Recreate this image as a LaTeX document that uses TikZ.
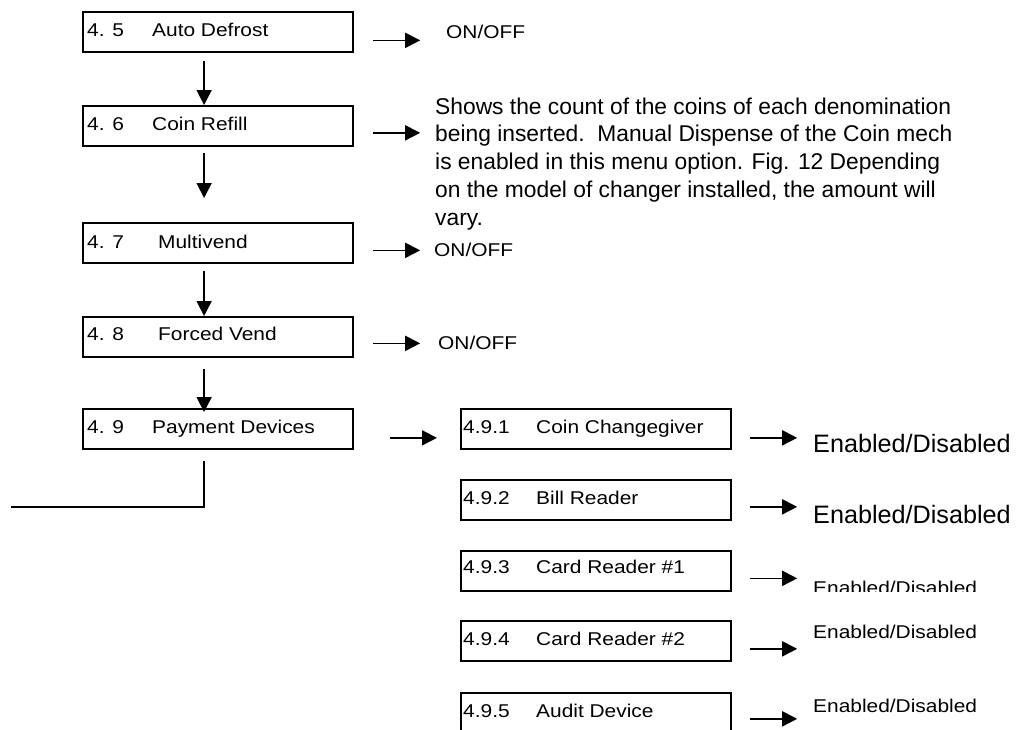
\documentclass[tikz,border=0pt]{standalone}
\usepackage{fontspec}
\setmainfont{Liberation Sans}
\newfontfamily\stretchfont[FakeStretch=1.13]{Liberation Sans}
\usetikzlibrary{arrows.meta,calc}
\begin{document}
\begin{tikzpicture}[x=1pt,y=-1pt,
  menubox/.style={draw, line width=2.2pt, minimum width=270pt, minimum height=39.5pt, anchor=north west, inner sep=0pt},
  lbl/.style={anchor=base west, inner sep=0pt, font=\stretchfont\fontsize{18.5}{22}\selectfont},
  edbig/.style={anchor=base west, inner sep=0pt, font=\fontsize{25.2}{30}\selectfont},
  para/.style={anchor=north west, inner sep=0pt, align=left, font=\fontsize{22.8}{27.7}\selectfont},
  arr/.style={line width=1.7pt, -{Triangle[length=15pt,width=15pt]}},
  plain/.style={line width=1.7pt}]
\useasboundingbox (0,0) rectangle (1031,729);
\clip (0,0) rectangle (1031,729);

% left column boxes
\node[menubox] (b45) at (82,11) {};
\node[menubox] (b46) at (82,105) {};
\node[menubox] (b47) at (82,222) {};
\node[menubox] (b48) at (82,316) {};
\node[menubox] (b49) at (82,408) {};

\node[lbl] (n45) at (87,36) {4. 5};  \node[lbl] (t45) at (152,36) {Auto Defrost};
\node[lbl] (n46) at (87,130) {4. 6}; \node[lbl] (t46) at (152,130) {Coin Refill};
\node[lbl] (n47) at (87,248) {4. 7}; \node[lbl] (t47) at (158,248) {Multivend};
\node[lbl] (n48) at (87,340) {4. 8}; \node[lbl] (t48) at (158,340) {Forced Vend};
\node[lbl] (n49) at (87,433) {4. 9}; \node[lbl] (t49) at (152,433) {Payment Devices};

% right column boxes
\node[menubox] (b491) at (460,408) {};
\node[menubox] (b492) at (460,479) {};
\node[menubox] (b493) at (460,550) {};
\node[menubox] (b494) at (460,620) {};
\node[menubox] (b495) at (460,692) {};

\node[lbl] (n491) at (463,433) {4.9.1}; \node[lbl] (t491) at (536,433) {Coin Changegiver};
\node[lbl] (n492) at (463,504) {4.9.2}; \node[lbl] (t492) at (536,504) {Bill Reader};
\node[lbl] (n493) at (463,573) {4.9.3}; \node[lbl] (t493) at (536,573) {Card Reader \#1};
\node[lbl] (n494) at (463,645) {4.9.4}; \node[lbl] (t494) at (536,645) {Card Reader \#2};
\node[lbl] (n495) at (463,717) {4.9.5}; \node[lbl] (t495) at (536,717) {Audit Device};

% side texts
\node[lbl] (o45) at (446,38) {ON/OFF};
\node[para] (p46) at (435,97.5) {Shows the count of the coins of each denomination\\
being inserted.\ \ Manual Dispense of the Coin mech\\
is enabled in this menu option. Fig. 12 Depending\\
on the model of changer installed, the amount will\\
vary.};
\node[lbl] (o47) at (434,256) {ON/OFF};
\node[lbl] (o48) at (438,349) {ON/OFF};

\node[edbig] (e491) at (813,452) {Enabled/Disabled};
\node[edbig] (e492) at (813,523) {Enabled/Disabled};
\begin{scope}
  \clip (800,560) rectangle (1010,591.5);
  \node[lbl] (e493) at (813,594) {Enabled/Disabled};
\end{scope}
\node[lbl] (e494) at (813,638) {Enabled/Disabled};
\node[lbl] (e495) at (813,712) {Enabled/Disabled};

% vertical flow
\draw[arr] ([xshift=-14pt,yshift=-8pt]b45.south) -- ([xshift=-14pt]b46.north);
\draw[arr] ([xshift=-14pt,yshift=-6pt]b46.south) -- ([xshift=-14pt,yshift=24pt]b47.north);
\draw[arr] ([xshift=-14pt,yshift=-7pt]b47.south) -- ([xshift=-14pt]b48.north);
\draw[arr] ([xshift=-14pt,yshift=-11pt]b48.south) -- ([xshift=-14pt,yshift=-4pt]b49.north);
\coordinate (exit) at (11,507);
\draw[plain] ([xshift=-14pt,yshift=-11pt]b49.south) |- (exit);

% side arrows, left column
\draw[arr] ([xshift=19pt,yshift=-8.5pt]b45.east) -- ++(47,0);
\draw[arr] ([xshift=19pt,yshift=-7pt]b46.east) -- ++(47,0);
\draw[arr] ([xshift=19pt,yshift=-7.5pt]b47.east) -- ++(47,0);
\draw[arr] ([xshift=19pt,yshift=-6.5pt]b48.east) -- ++(47,0);
\draw[arr] ([xshift=36pt,yshift=-9pt]b49.east) -- ([xshift=-23pt,yshift=-9pt]b491.west);

% side arrows, right column
\draw[arr] ([xshift=18pt,yshift=-9pt]b491.east) -- ++(47,0);
\draw[arr] ([xshift=18pt,yshift=-7pt]b492.east) -- ++(47,0);
\draw[arr] ([xshift=18pt,yshift=-7.5pt]b493.east) -- ++(47,0);
\draw[arr] ([xshift=18pt,yshift=-8pt]b494.east) -- ++(47,0);
\draw[arr] ([xshift=18pt,yshift=-6pt]b495.east) -- ++(47,0);
\end{tikzpicture}
\end{document}
